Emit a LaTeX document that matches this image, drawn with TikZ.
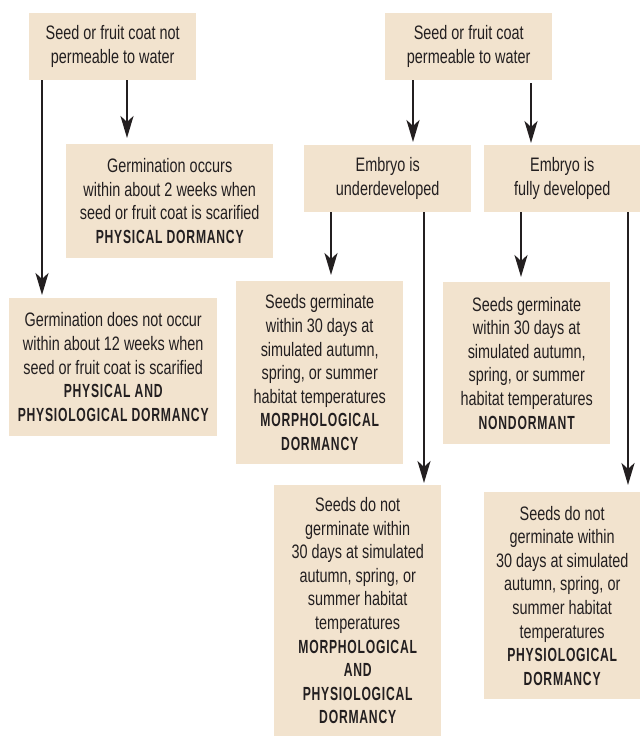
\documentclass[tikz,border=0pt]{standalone}
\usepackage{fontspec}
\setmainfont{Liberation Sans}[FakeStretch=0.74]
\newfontfamily\dormfont{Liberation Sans}[FakeStretch=0.64,LetterSpace=4]
\usetikzlibrary{arrows.meta, positioning}

\newcommand{\dorm}[1]{{\dormfont\bfseries\fontsize{19}{23.6}\selectfont #1}}

\begin{document}
\begin{tikzpicture}[x=1pt, y=-1pt,
    box/.style={fill=beige, anchor=north west, align=center, inner sep=0pt,
        text=ink, font=\fontsize{19.5}{23.6}\selectfont},
    arr/.style={draw=ink, line width=2.6pt,
        -{Stealth[length=22pt, width=13pt, inset=6pt]}}]
    \definecolor{beige}{RGB}{242,227,206}
    \definecolor{ink}{RGB}{35,31,32}
    \useasboundingbox (0,0) rectangle (640,736);

    % Top row
    \node[box, minimum width=167pt, minimum height=67pt] (notperm) at (29,13)
        {Seed or fruit coat not\\permeable to water};
    \node[box, minimum width=167pt, minimum height=67pt] (perm) at (385,13)
        {Seed or fruit coat\\permeable to water};

    % Second row
    \node[box, minimum width=207pt, minimum height=114pt] (physical) at (66,144)
        {Germination occurs\\within about 2 weeks when\\seed or fruit coat is scarified\\\dorm{PHYSICAL DORMANCY}};
    \node[box, minimum width=167pt, minimum height=67pt] (under) at (304,145)
        {Embryo is\\underdeveloped};
    \node[box, minimum width=156pt, minimum height=67pt] (full) at (484,145)
        {Embryo is\\fully developed};

    % Third row
    \node[box, minimum width=208pt, minimum height=138pt] (physphys) at (9,298)
        {Germination does not occur\\within about 12 weeks when\\seed or fruit coat is scarified\\\dorm{PHYSICAL AND}\\\dorm{PHYSIOLOGICAL DORMANCY}};
    \node[box, minimum width=167pt, minimum height=183pt] (morph) at (236,281)
        {Seeds germinate\\within 30 days at\\simulated autumn,\\spring, or summer\\habitat temperatures\\\dorm{MORPHOLOGICAL}\\\dorm{DORMANCY}};
    \node[box, minimum width=167pt, minimum height=162pt] (nondorm) at (443,282)
        {Seeds germinate\\within 30 days at\\simulated autumn,\\spring, or summer\\habitat temperatures\\\dorm{NONDORMANT}};

    % Bottom row
    \node[box, minimum width=167pt, minimum height=251pt] (morphphys) at (274,485)
        {Seeds do not\\germinate within\\30 days at simulated\\autumn, spring, or\\summer habitat\\temperatures\\\dorm{MORPHOLOGICAL}\\\dorm{AND}\\\dorm{PHYSIOLOGICAL}\\\dorm{DORMANCY}};
    \node[box, minimum width=156pt, minimum height=207pt] (physiol) at (484,492)
        {Seeds do not\\germinate within\\30 days at simulated\\autumn, spring, or\\summer habitat\\temperatures\\\dorm{PHYSIOLOGICAL}\\\dorm{DORMANCY}};

    % Arrows
    \draw[arr, shorten >=3pt] ([xshift=13pt]notperm.south west) -- ([xshift=13pt]notperm.south west |- physphys.north);
    \draw[arr, shorten >=6pt] ([xshift=98pt]notperm.south west) -- ([xshift=98pt]notperm.south west |- physical.north);
    \draw[arr, shorten >=3pt] ([xshift=28pt]perm.south west) -- ([xshift=28pt]perm.south west |- under.north);
    \draw[arr, shorten <=3pt, shorten >=2pt] ([xshift=146pt]perm.south west) -- ([xshift=146pt]perm.south west |- full.north);
    \draw[arr, shorten >=6pt] ([xshift=27pt]under.south west) -- ([xshift=27pt]under.south west |- morph.north);
    \draw[arr, shorten >=2pt] ([xshift=120pt]under.south west) -- ([xshift=120pt]under.south west |- morphphys.north);
    \draw[arr, shorten >=5pt] ([xshift=37pt]full.south west) -- ([xshift=37pt]full.south west |- nondorm.north);
    \draw[arr, shorten >=7pt] ([xshift=144pt]full.south west) -- ([xshift=144pt]full.south west |- physiol.north);
\end{tikzpicture}
\end{document}
